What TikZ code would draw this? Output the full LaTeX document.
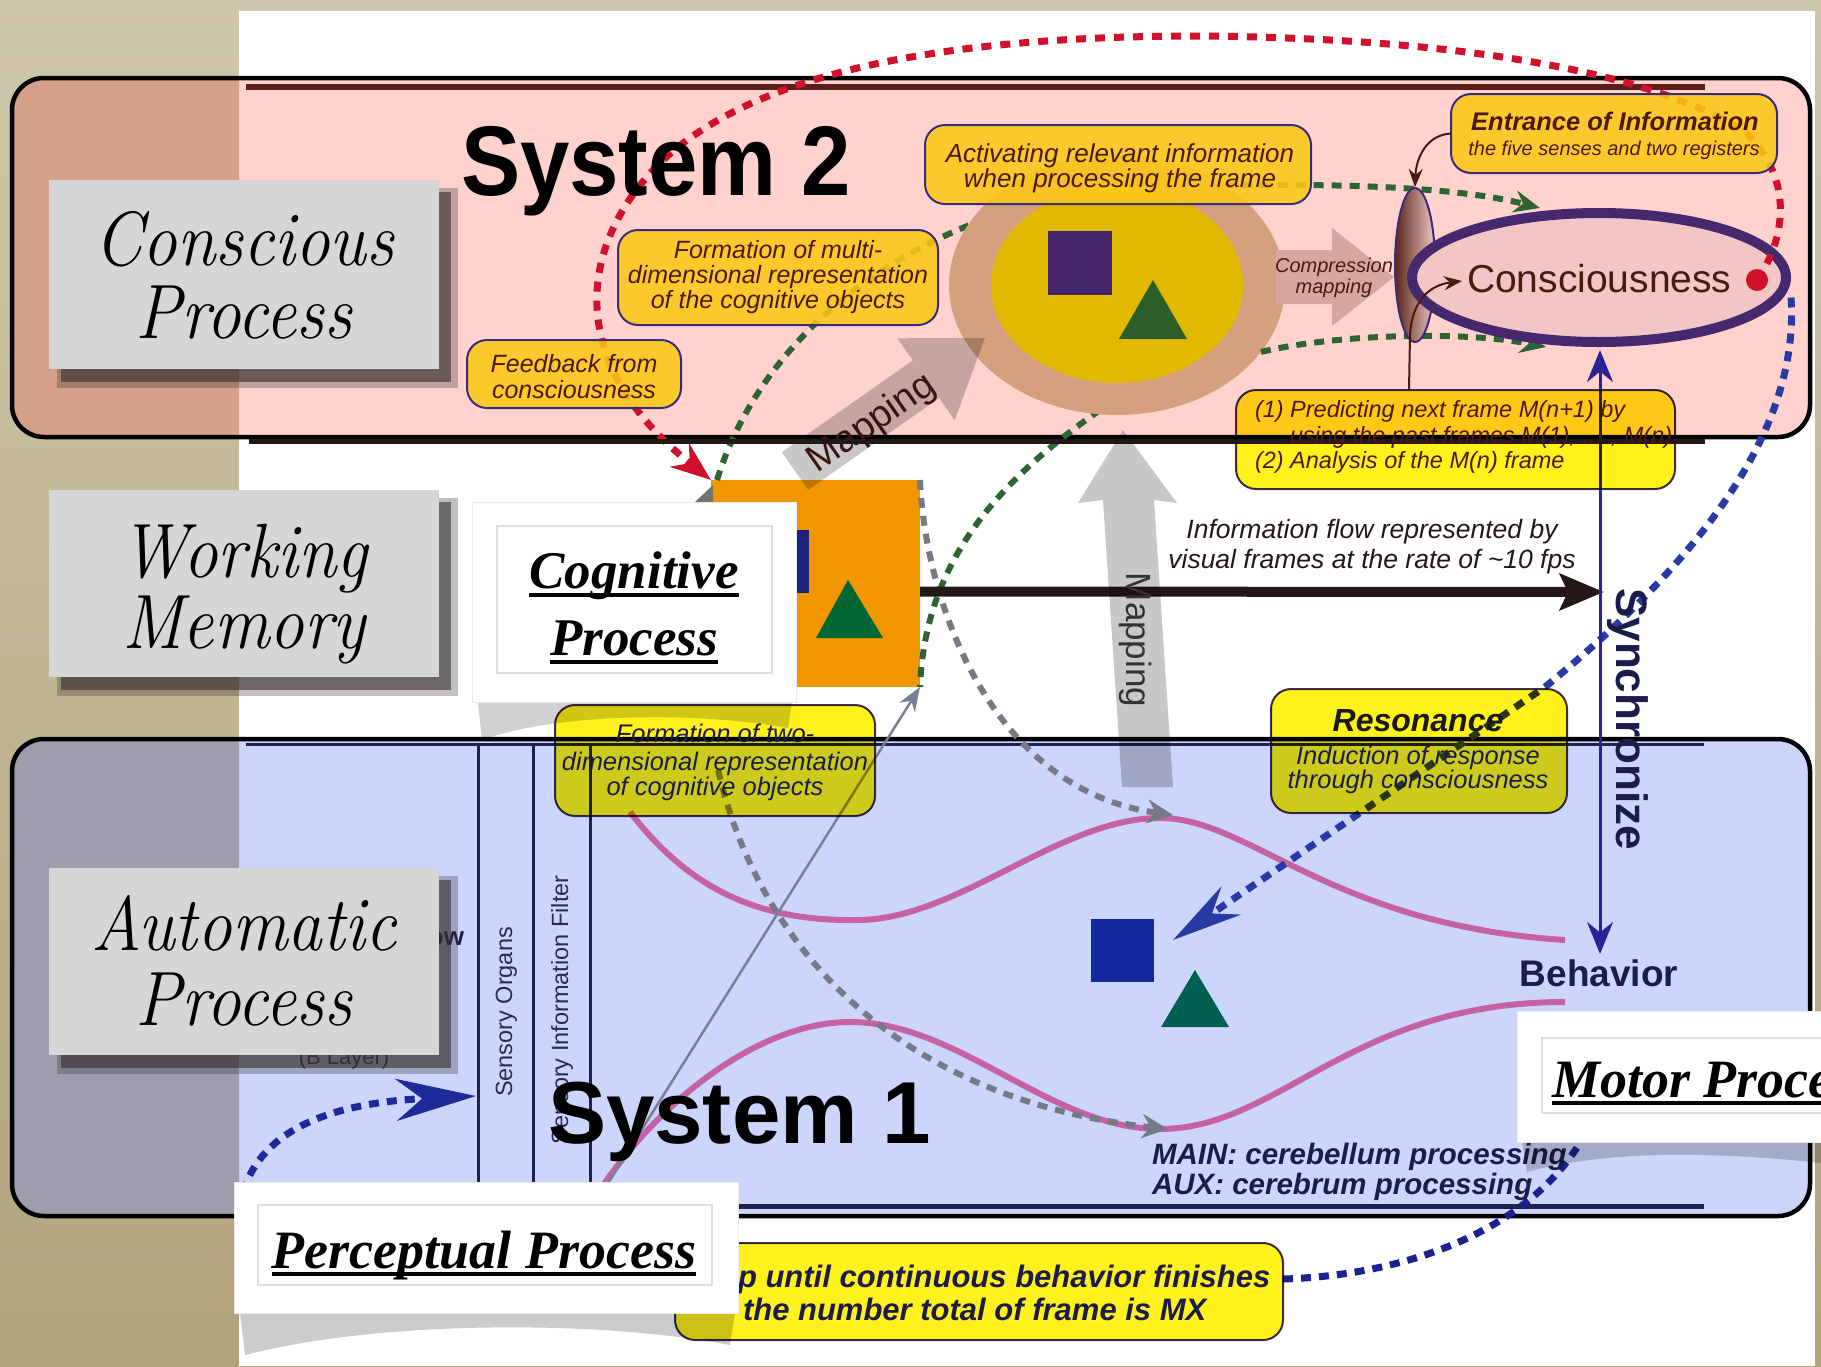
\documentclass[tikz,border=0pt]{standalone}
\usepackage{graphicx}
\usepackage{fontspec}
\newfontfamily\lsans{Liberation Sans}
\newfontfamily\lserif{Liberation Serif}
\usetikzlibrary{arrows.meta,shapes.geometric}
\newcommand\fsz[1]{\fontsize{#1}{#1}\selectfont}
\definecolor{beigeT}{HTML}{CFC7AB}
\definecolor{beigeB}{HTML}{B2A37C}
\definecolor{salmonL}{HTML}{D5A189}
\definecolor{lavL}{HTML}{9D9DAE}
\definecolor{sysTwo}{HTML}{FFD2CE}
\definecolor{sysOne}{HTML}{CCD6FC}
\definecolor{goldfill}{HTML}{FCC817}
\definecolor{yelfill}{HTML}{FFF21C}
\definecolor{boxline}{HTML}{3A2C7A}
\definecolor{browntxt}{HTML}{4A1A0E}
\definecolor{navytxt}{HTML}{1C1C4C}
\definecolor{greendash}{HTML}{2D6432}
\definecolor{reddash}{HTML}{D0112B}
\definecolor{bluedash}{HTML}{2A3AA5}
\definecolor{navydash}{HTML}{1B2191}
\definecolor{leftblue}{HTML}{1E2A9A}
\definecolor{greydash}{HTML}{767A85}
\definecolor{pinkcurve}{HTML}{C562A3}
\definecolor{ctan}{HTML}{D5A07E}
\definecolor{circgold}{HTML}{E1BA00}
\definecolor{purplesq}{HTML}{45266A}
\definecolor{darkgreen}{HTML}{2D5E2A}
\definecolor{orangesq}{HTML}{F29600}
\definecolor{conscfill}{HTML}{F2C6C4}
\definecolor{conscline}{HTML}{46286E}
\definecolor{labelgrey}{HTML}{D6D6D6}
\definecolor{shadowc}{HTML}{352E2E}
\definecolor{syncc}{HTML}{2A2396}
\definecolor{bandnavy}{HTML}{1E2050}
\definecolor{bandbrown}{HTML}{5B1F17}
\definecolor{blackish}{HTML}{231815}
\definecolor{compfill}{HTML}{D6A69F}
\definecolor{lensdark}{HTML}{5A2618}
\definecolor{lenslight}{HTML}{F0C8C8}
\definecolor{mapgrey}{HTML}{C8C8C8}
\definecolor{thingrey}{HTML}{7A7F95}
\definecolor{bluesq}{HTML}{1428A0}
\definecolor{tealtri}{HTML}{006050}
\definecolor{navyrect}{HTML}{1A237E}
\definecolor{greentri}{HTML}{006633}
\definecolor{sensetxt}{HTML}{2A2A55}
\definecolor{maptxt}{HTML}{3A1410}
\begin{document}
\begin{tikzpicture}[x=0.5pt,y=-0.5pt,
  txt/.style={inner sep=0pt, outer sep=0pt, anchor=base},
  gdash/.style={draw=greendash, line width=3pt, dash pattern=on 5pt off 4pt},
  rdash/.style={draw=reddash, line width=3.5pt, dash pattern=on 5pt off 4.5pt},
  bdash/.style={draw=bluedash, line width=3.5pt, dash pattern=on 5pt off 4pt},
  ndash/.style={draw=navydash, line width=3.5pt, dash pattern=on 5pt off 4pt},
  ldash/.style={draw=leftblue, line width=3.5pt, dash pattern=on 5pt off 4pt},
  grdash/.style={draw=greydash, line width=3pt, dash pattern=on 5pt off 4pt},
  goldbox/.style={draw=boxline, line width=1pt, fill=goldfill, fill opacity=0.88, rounded corners=10pt, inner sep=0pt, outer sep=0pt},
  yelbox/.style={draw=boxline, line width=1pt, fill=yelfill, rounded corners=10pt, inner sep=0pt, outer sep=0pt},
  greylab/.style={fill=labelgrey, inner sep=0pt, outer sep=0pt},
  whitebox/.style={fill=white, draw=black!8, line width=0.5pt, inner sep=0pt, outer sep=0pt},
  innerframe/.style={draw=black!12, line width=0.6pt},
  brownarrow/.style={draw=browntxt, line width=1pt, -{Stealth[length=9pt,width=7pt]}},
  labtxt/.style={inner sep=0pt, outer sep=0pt, anchor=base, font=\itshape\fsz{38.5pt}},
]
\useasboundingbox (0,0) rectangle (1821,1366);
\begin{scope}
\clip (0,0) rectangle (1821,1366);
% background
\shade[top color=beigeT, bottom color=beigeB] (0,0) rectangle (1821,1366);
\fill[white] (239,11) rectangle (1815,1366);

% band boxes
\path[fill=sysTwo, rounded corners=16pt] (12,78) rectangle (1810,437);
\path[fill=sysOne, rounded corners=16pt] (12,739) rectangle (1810,1216);
\begin{scope}
\clip (0,0) rectangle (239,1366);
\path[fill=salmonL, rounded corners=16pt] (12,78) rectangle (1810,437);
\path[fill=lavL, rounded corners=16pt] (12,739) rectangle (1810,1216);
\end{scope}
\draw[line width=2.25pt, rounded corners=16pt] (12,78) rectangle (1810,437);
\draw[line width=2.25pt, rounded corners=16pt] (12,739) rectangle (1810,1216);
\draw[line width=3pt, bandbrown] (246,87) -- (1705,87);
\draw[line width=1.5pt, bandnavy] (246,744) -- (1704,744);
\draw[line width=2.5pt, bandnavy] (246,1206) -- (1704,1206);
\foreach \x in {478,533,590} \draw[line width=1.5pt, bandnavy] (\x,744) -- (\x,1206);

% sensory texts
\node[txt, rotate=90, text=sensetxt] (so) at (512,1012) {\lsans\fsz{11.75pt}Sensory Organs};
\node[txt, rotate=90, text=sensetxt] (sif) at (568,1010) {\lsans\fsz{11.75pt}Sensory Information Filter};
\node[txt, anchor=base east, text=navytxt] (ow) at (464,945) {\lsans\bfseries\fsz{13pt}ow};
\node[txt, text=sensetxt] (bl) at (344,1064) {\lsans\fsz{11pt}(B Layer)};

% orange square with shapes
\node[fill=orangesq, minimum width=104.5pt, minimum height=103.5pt, inner sep=0pt, outer sep=0pt] (orange) at (815.5,583.5) {};
\fill[navyrect] (750,530) rectangle (809,593);
\fill[greentri] (848,580) -- (883,638) -- (816,638) -- cycle;
\fill[black!55] (695,502) -- (713,485) -- (713,502) -- cycle;

% pink curves
\draw[pinkcurve, line width=3pt] (630,812) .. controls (690,890) and (760,922) .. (860,920) .. controls (960,918) and (1060,818) .. (1160,818) .. controls (1250,818) and (1330,925) .. (1565,940);
\draw[pinkcurve, line width=3pt] (600,1190) .. controls (660,1100) and (760,1022) .. (850,1022) .. controls (960,1022) and (1050,1129) .. (1160,1129) .. controls (1280,1129) and (1350,1002) .. (1565,1002);

% blue square and triangle
\fill[bluesq] (1091,919) rectangle (1154,982);
\fill[tealtri] (1195,970) -- (1229,1027) -- (1161,1027) -- cycle;

% thin grey line
\draw[thingrey, line width=1.25pt, -{Stealth[length=12pt,width=9pt]}] (600,1196) -- (orange.south east);

% grey dashed arrows
\draw[grdash, -{Stealth[length=13pt,width=12pt]}] (orange.north east) .. controls (925,600) and (990,790) .. (1173,815);
\draw[grdash, -{Stealth[length=13pt,width=12pt]}] (718,770) .. controls (760,950) and (900,1100) .. (1168,1129);

% green dashed
\draw[gdash, -{Stealth[length=13pt,width=11pt]}] ([xshift=3pt]orange.north west) .. controls (760,340) and (900,220) .. (1100,190) .. controls (1300,180) and (1450,185) .. (1540,208);
\draw[gdash] (1100,410) .. controls (1000,480) and (925,560) .. (orange.south east);

% circle
\node[ellipse, fill=ctan, minimum width=168pt, minimum height=130pt, inner sep=0pt] (circ) at (1117,285) {};
\node[ellipse, fill=circgold, minimum width=126pt, minimum height=98pt, inner sep=0pt] (circin) at (1117,285) {};
\fill[purplesq] (1048,231) rectangle (1112,295);
\fill[darkgreen] (1153,280) -- (1187,339) -- (1119,339) -- cycle;

\draw[gdash, -{Stealth[length=13pt,width=11pt]}] (1261,352) .. controls (1330,335) and (1460,330) .. (1546,347);

% compression arrow
\fill[compfill] (1276,250) -- (1332,250) -- (1332,228) -- (1394,277) -- (1332,326) -- (1332,304) -- (1276,304) -- cycle;
\node[txt, text=browntxt] (cm1) at (1334,272) {\lsans\itshape\fsz{10pt}Compression};
\node[txt, text=browntxt] (cm2) at (1334,293) {\lsans\itshape\fsz{10pt}mapping};

% lens and consciousness
\node[ellipse, left color=lensdark, right color=lenslight, draw=boxline, line width=1pt, minimum width=20pt, minimum height=77pt, inner sep=0pt] (lens) at (1415,265) {};
\node[ellipse, draw=conscline, line width=5pt, fill=conscfill, minimum width=187pt, minimum height=64.5pt, inner sep=0pt] (consc) at (1599,277.5) {};
\node[txt, anchor=base west, text=browntxt] (ctext) at (1467,292) {\lsans\fsz{19.5pt}Consciousness};
\node[circle, fill=reddash, minimum size=11pt, inner sep=0pt] (rdot) at (1757,280) {};

% red dashed
\draw[rdash, -{Stealth[length=20pt,width=15pt]}] (rdot.center) .. controls (1785,240) and (1795,180) .. (1746,133) .. controls (1650,70) and (1450,38) .. (1200,36) .. controls (950,36) and (760,70) .. (663,160) .. controls (580,240) and (560,360) .. (orange.north west);

% blue dashed (right)
\draw[bdash, -{Stealth[length=35pt,width=17pt]}] ([yshift=-10pt]consc.east) .. controls (1800,430) and (1700,560) .. (1545,687) -- (1173,940);

% black horizontal arrow
\draw[blackish, line width=5pt, -{Stealth[length=22pt,width=18pt,inset=4pt]}] ([yshift=-4pt]orange.east) -- (1604,592);

% mapping arrows (multiply)
\begin{scope}[blend mode=multiply]
\fill[mapgrey] (808.2,489.8) -- (939.2,398.0) -- (954.7,420.2) -- (985,337.8) -- (897.3,338.3) -- (912.8,360.4) -- (781.8,452.2) -- cycle;
\fill[mapgrey] (1123,430) -- (1177,503) -- (1154,500) -- (1173,787) -- (1122,787) -- (1103,500) -- (1078,503) -- cycle;
\end{scope}
\node[txt, anchor=center, rotate=35, text=maptxt] (map1) at (872,424) {\lsans\fsz{19pt}Mapping};
\node[txt, rotate=-90, text=black!80] (map2) at (1126,640) {\lsans\fsz{17.5pt}Mapping};

% information flow text
\node[txt, text=blackish] (if1) at (1372,538) {\lsans\itshape\fsz{13.25pt}Information flow represented by};
\node[txt, text=blackish] (if2) at (1372,568) {\lsans\itshape\fsz{13.25pt}visual frames at the rate of \char"007E 10 fps};

% synchronize line
\coordinate (sTop) at (1600,350);
\coordinate (sBot) at (1600,954);
\draw[syncc, line width=1.5pt, {Stealth[length=16pt,width=13pt]}-{Stealth[length=16pt,width=13pt]}] (sTop) -- (sBot);
\node[txt, rotate=-90, text=navytxt] (sync) at (1616,719) {\lsans\bfseries\fsz{22pt}Synchronize};

% navy bottom dashed
\draw[ndash] ([yshift=3pt]1283,1285) .. controls (1420,1275) and (1560,1220) .. (1600,1100);
% left blue dashed
\draw[ldash, -{Stealth[length=40pt,width=21pt]}] (243,1192) .. controls (262,1130) and (330,1103) .. (476,1096);

% gold boxes
\node[goldbox, minimum width=160pt, minimum height=47.5pt] (formMulti) at (778,277.5) {};
\node[goldbox, minimum width=107pt, minimum height=34pt] (feedback) at (574,374) {};
\node[goldbox, minimum width=193pt, minimum height=39.5pt] (activ) at (1118,164.5) {};
\node[goldbox, minimum width=163pt, minimum height=39.5pt] (entrance) at (1614,133.5) {};
% multiply yellow boxes
\begin{scope}[blend mode=multiply]
\node[yelbox, minimum width=219.5pt, minimum height=49.5pt] (predict) at (1455.5,439.5) {};
\node[yelbox, minimum width=148pt, minimum height=62pt] (reson) at (1419,751) {};
\node[yelbox, minimum width=160pt, minimum height=55.5pt] (formTwo) at (715,760.5) {};
\node[yelbox, minimum width=304pt, minimum height=48.5pt] (loopbox) at (979,1291.5) {};
\end{scope}
\draw[line width=2.5pt, blackish] (249,441) -- (1705,441);

% box texts
\node[txt, text=browntxt] (fm1) at (778,258) {\lsans\itshape\fsz{12.5pt}Formation of multi-};
\node[txt, text=browntxt] (fm2) at (778,283) {\lsans\itshape\fsz{12.5pt}dimensional representation};
\node[txt, text=browntxt] (fm3) at (778,308) {\lsans\itshape\fsz{12.5pt}of the cognitive objects};
\node[txt, text=browntxt] (fb1) at (574,372) {\lsans\itshape\fsz{12.5pt}Feedback from};
\node[txt, text=browntxt] (fb2) at (574,398) {\lsans\itshape\fsz{12.5pt}consciousness};
\node[txt, text=browntxt] (ac1) at (1120,162) {\lsans\itshape\fsz{13pt}Activating relevant information};
\node[txt, text=browntxt] (ac2) at (1120,187) {\lsans\itshape\fsz{13pt}when processing the frame};
\node[txt, text=browntxt] (en1) at (1615,130) {\lsans\bfseries\itshape\fsz{12.75pt}Entrance of Information};
\node[txt, text=browntxt] (en2) at (1614,155) {\lsans\itshape\fsz{10pt}the five senses and two registers};
\node[txt, anchor=base west, text=browntxt] (pr1) at (1255,417) {\lsans\itshape\fsz{11.75pt}(1) Predicting next frame M(n+1) by};
\node[txt, anchor=base west, text=browntxt] (pr2) at (1290,443) {\lsans\itshape\fsz{11.75pt}using the past frames M(1), ... , M(n)};
\node[txt, anchor=base west, text=browntxt] (pr3) at (1255,468) {\lsans\itshape\fsz{11.75pt}(2) Analysis of the M(n) frame};
\node[txt, text=black!90] (rs1) at (1418,731) {\lsans\bfseries\itshape\fsz{16pt}Resonance};
\node[txt, text=navytxt] (rs2) at (1418,764) {\lsans\itshape\fsz{12.75pt}Induction of response};
\node[txt, text=navytxt] (rs3) at (1418,788) {\lsans\itshape\fsz{12.75pt}through consciousness};
\node[txt, text=navytxt] (ft1) at (715,742) {\lsans\itshape\fsz{12.75pt}Formation of two-};
\node[txt, text=navytxt] (ft2) at (715,770) {\lsans\itshape\fsz{12.75pt}dimensional representation};
\node[txt, text=navytxt] (ft3) at (715,795) {\lsans\itshape\fsz{12.75pt}of cognitive objects};
\node[txt, anchor=base west, text=navytxt] (lp1) at (738,1287) {\lsans\bfseries\itshape\fsz{15.5pt}p until continuous behavior finishes};
\node[txt, anchor=base west, text=navytxt] (lp2) at (743,1320) {\lsans\bfseries\itshape\fsz{15.5pt}the number total of frame is MX};

% brown thin connectors
\draw[brownarrow] (entrance.west) .. controls (1425,135) and (1416,160) .. (lens.north);
\coordinate (pstart) at (1409,390);
\coordinate (cin) at (1462,281);
\draw[brownarrow] (pstart) -- (1410,335) .. controls (1412,300) and (1430,285) .. (cin);

% behavior and main texts
\node[txt, text=navytxt] (beh) at (1599,986) {\lsans\bfseries\fsz{18.5pt}Behavior};
\node[txt, anchor=base west, text=navytxt] (mn1) at (1152,1164) {\lsans\bfseries\itshape\fsz{14.75pt}MAIN: cerebellum processing};
\node[txt, anchor=base west, text=navytxt] (mn2) at (1152,1194) {\lsans\bfseries\itshape\fsz{14.75pt}AUX: cerebrum processing};

% System titles
\node[txt, anchor=base west] (s2) at (461,195) {\lsans\bfseries\fsz{49.5pt}\scalebox{0.897}[1]{System 2}};
\node[txt, anchor=base west] (s1) at (548,1143) {\lsans\bfseries\fsz{44pt}\scalebox{0.99}[1]{System 1}};

% grey label boxes with shadows
\foreach \ya/\yb in {180/369, 490/677, 868/1055} {
  \fill[shadowc, opacity=0.3] (57,\ya+8) rectangle (458,\yb+19);
  \fill[shadowc, opacity=0.6] (61,\ya+12) rectangle (451,\yb+13);
}
\node[greylab, minimum width=195pt, minimum height=94.5pt] (conscious) at (244,274.5) {};
\node[greylab, minimum width=195pt, minimum height=93.5pt] (working) at (244,583.5) {};
\node[greylab, minimum width=195pt, minimum height=93.5pt] (automatic) at (244,961.5) {};
\node[labtxt] (cp1) at (244,265) {\scalebox{0.9}[1]{Conscious}};
\node[labtxt] (cp2) at (244,338) {\scalebox{0.9}[1]{Process}};
\node[labtxt] (wm1) at (244,577) {\scalebox{0.9}[1]{Working}};
\node[labtxt] (wm2) at (244,648) {\scalebox{0.9}[1]{Memory}};
\node[labtxt] (ap1) at (244,950) {\scalebox{0.9}[1]{Automatic}};
\node[labtxt] (ap2) at (244,1025) {\scalebox{0.9}[1]{Process}};

% white boxes with shadows
\fill[black, opacity=0.18] (478,702) -- (792,702) -- (788,728) .. controls (700,712) and (560,712) .. (482,740) -- cycle;
\fill[black, opacity=0.2] (240,1313) -- (735,1313) -- (730,1345) .. controls (600,1320) and (380,1320) .. (245,1355) -- cycle;
\fill[black, opacity=0.2] (1522,1142) -- (1821,1142) -- (1821,1163) .. controls (1700,1150) and (1600,1152) .. (1527,1172) -- cycle;
\node[whitebox, minimum width=162pt, minimum height=100pt] (cog) at (634,602) {};
\draw[innerframe] (497,526) rectangle (772,673);
\node[whitebox, minimum width=252pt, minimum height=65.5pt] (percep) at (486,1247.5) {};
\draw[innerframe] (258,1205) rectangle (712,1285);
\node[whitebox, minimum width=161.5pt, minimum height=65.5pt] (motor) at (1678.5,1076.5) {};
\draw[innerframe] (1542,1038) rectangle (1830,1113);

\node[txt] (cg1) at (634,588) {\lserif\bfseries\itshape\fsz{26.5pt}Cognitive};
\node[txt] (cg2) at (634,655) {\lserif\bfseries\itshape\fsz{26.5pt}Process};
\draw[line width=1.6pt] ([yshift=-3.5pt]cg1.base west) -- ([yshift=-3.5pt]cg1.base east);
\draw[line width=1.6pt] ([yshift=-3.5pt]cg2.base west) -- ([yshift=-3.5pt]cg2.base east);
\node[txt] (pp) at (484,1268) {\lserif\bfseries\itshape\fsz{27pt}Perceptual Process};
\draw[line width=1.6pt] ([yshift=-3pt]pp.base west) -- ([yshift=-3pt]pp.base east);
\node[txt, anchor=base west] (mp) at (1552,1097) {\lserif\bfseries\itshape\fsz{27pt}Motor Process};
\draw[line width=1.6pt] ([yshift=-3pt]mp.base west) -- ([yshift=-3pt]mp.base east);
\end{scope}
\end{tikzpicture}
\end{document}
